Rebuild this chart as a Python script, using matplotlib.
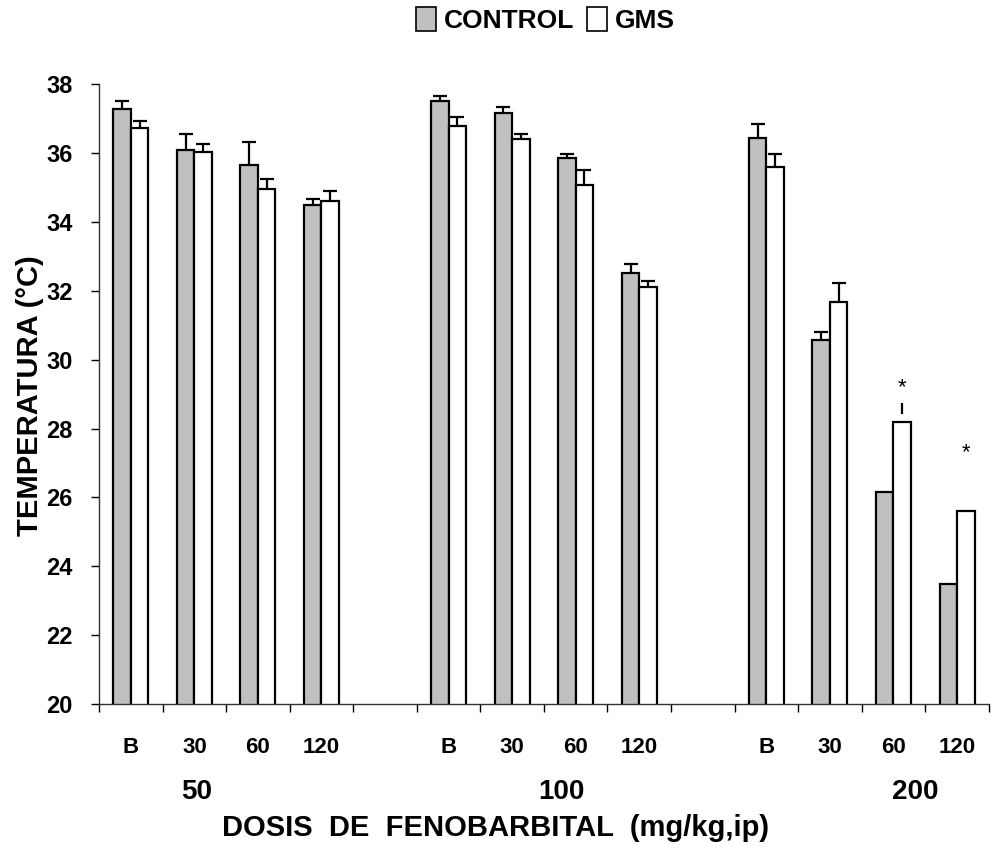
import numpy as np
import matplotlib.pyplot as plt
from matplotlib.patches import Patch

## data
groups = ['50', '100', '200']
times = ['B', '30', '60', '120']
control_mean = [37.29, 36.09, 35.67, 34.48, 37.51, 37.16, 35.85, 32.53, 36.45, 30.58, 26.16, 23.50]
control_err = [0.23, 0.48, 0.66, 0.19, 0.14, 0.18, 0.12, 0.24, 0.41, 0.23, 0.0, 0.0]
gms_mean = [36.74, 36.02, 34.97, 34.60, 36.80, 36.40, 35.07, 32.12, 35.61, 31.69, 28.20, 25.62]
gms_err = [0.18, 0.25, 0.29, 0.31, 0.25, 0.16, 0.44, 0.17, 0.37, 0.54, 0.0, 0.0]
star_idx = [10, 11]
star_y = [29.2, 27.3]
dash_idx = [10]
dash_lo = [28.42]
dash_hi = [28.75]

plt.rcParams['font.family'] = ['Liberation Sans', 'DejaVu Sans']
plt.rcParams['font.weight'] = 'bold'

gray = '#c0c0c0'
w = 0.275
cap = 0.22

## slot positions: 4 times per group, one empty slot between groups
pos = np.array([g * 5 + t for g in range(len(groups)) for t in range(len(times))], dtype=float)

fig = plt.figure(figsize=(9.92, 8.48), dpi=100)
ax = fig.add_axes([0.0998, 0.1698, 0.897, 0.7308])

ax.bar(pos - w / 2, control_mean, width=w, color=gray, edgecolor='black', linewidth=1.6, zorder=2)
ax.bar(pos + w / 2, gms_mean, width=w, color='white', edgecolor='black', linewidth=1.6, zorder=2)

## upper error bars only
def up_errors(x, m, e):
    x = np.asarray(x); m = np.asarray(m); e = np.asarray(e)
    keep = e > 0
    ax.vlines(x[keep], m[keep], m[keep] + e[keep], color='black', linewidth=1.6, zorder=3)
    ax.hlines(m[keep] + e[keep], x[keep] - cap / 2, x[keep] + cap / 2, color='black', linewidth=1.6, zorder=3)

up_errors(pos - w / 2, control_mean, control_err)
up_errors(pos + w / 2, gms_mean, gms_err)

## significance marks
for i, y in zip(star_idx, star_y):
    ax.text(pos[i] + w / 2, y, '*', ha='center', va='center', fontsize=16, fontweight='normal')
ax.vlines([pos[i] + w / 2 for i in dash_idx], dash_lo, dash_hi, color='black', linewidth=1.6)

ax.set_xlim(-0.5, 13.5)
ax.set_ylim(20, 38)
ax.set_yticks(np.arange(20, 39, 2))
ax.tick_params(axis='y', direction='out', length=6, width=1, labelsize=17, pad=13)

ax.set_xticks(pos)
ax.set_xticklabels(times * len(groups))
ax.set_xticks(np.arange(-0.5, 14, 1), minor=True)
ax.tick_params(axis='x', which='major', length=0, labelsize=16, pad=24)
ax.tick_params(axis='x', which='minor', direction='out', length=6, width=1)

for s in ['top', 'right']:
    ax.spines[s].set_visible(False)
for s in ['left', 'bottom']:
    ax.spines[s].set_linewidth(1)
    ax.spines[s].set_color('#333333')

## group labels
group_x = [1.03, 6.78, 12.35]
for gx, g in zip(group_x, groups):
    ax.text(gx, -0.142, g, transform=ax.get_xaxis_transform(), ha='center', va='center', fontsize=20)

fig.text(0.5, 0.0236, 'DOSIS  DE  FENOBARBITAL  (mg/kg,ip)', ha='center', va='center', fontsize=21)
fig.text(0.03, 0.534, 'TEMPERATURA (°C)', rotation=90, ha='center', va='center', fontsize=21)

handles = [Patch(facecolor=gray, edgecolor='black', linewidth=1.2),
           Patch(facecolor='white', edgecolor='black', linewidth=1.2)]
fig.legend(handles, ['CONTROL', 'GMS'], loc='center', bbox_to_anchor=(0.55, 1 - 20 / 848),
           ncol=2, frameon=False, fontsize=19, handlelength=0.75, handleheight=1.0,
           handletextpad=0.3, columnspacing=0.5)

fig.savefig('out.png', dpi=100)
